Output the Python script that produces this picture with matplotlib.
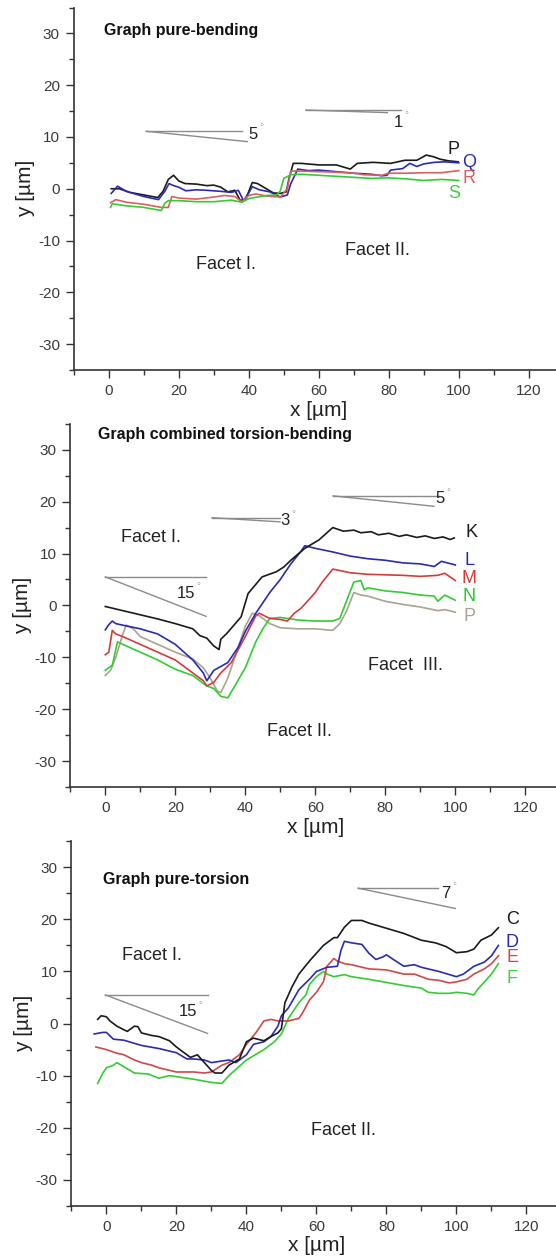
import matplotlib
matplotlib.use("Agg")
import matplotlib.pyplot as plt
from matplotlib.ticker import MultipleLocator

plt.rcParams["font.family"] = ["Liberation Sans", "DejaVu Sans"]
plt.rcParams["axes.unicode_minus"] = False

# ---- data (x, y in micrometres) ----
# pure bending
bend_P_x = [0.7, 3, 6, 10, 14, 15.5, 17, 18.5, 20, 21.8, 25, 28, 30, 32, 34, 36, 37.5, 39, 40, 41, 42.5, 45, 47, 49, 50.7, 51.5, 52.7, 55, 60, 65, 69, 71, 75.5, 80.5, 84.6, 88, 90.7, 92.7, 94.7, 97, 99.8]
bend_P_y = [0.0, 0.0, -0.7, -1.2, -1.7, -0.5, 1.8, 2.6, 1.5, 1.0, 0.9, 0.6, 0.7, 0.3, -0.6, -0.3, -2.2, -2.2, -0.5, 1.2, 1.0, 0.0, -0.8, -0.9, -0.6, 2.0, 4.9, 4.9, 4.6, 4.6, 3.8, 4.9, 5.1, 4.9, 5.5, 5.5, 6.5, 6.2, 5.7, 5.4, 5.2]
bend_Q_x = [0.7, 2.5, 5, 10, 14.2, 16, 17.2, 18.5, 20, 22, 25, 28, 32, 35, 37, 38.5, 40, 41, 43, 46, 49, 51, 52, 54, 57, 60, 65, 70, 75, 78, 79.5, 80.5, 84, 86, 88, 90, 93, 96, 100]
bend_Q_y = [-0.9, 0.5, -0.5, -1.5, -2.1, -0.5, 1.0, 0.6, 0.3, -0.4, -0.2, -0.3, -0.5, -0.7, -0.3, -2.3, -0.8, 0.4, -0.2, -0.6, -1.6, -1.2, 1.0, 3.8, 3.5, 3.6, 3.3, 3.0, 2.8, 2.5, 2.6, 3.6, 3.9, 4.9, 4.3, 4.8, 5.1, 5.2, 5.0]
bend_R_x = [0.5, 2, 5, 10, 15, 17, 18, 20, 25, 30, 33, 36, 38, 40, 42, 45, 49, 51, 52, 55, 60, 65, 70, 73, 78, 80, 85, 90, 95, 100]
bend_R_y = [-2.7, -2.1, -2.6, -3.0, -3.6, -3.6, -1.5, -1.8, -2.0, -1.6, -1.3, -1.5, -2.5, -1.3, -1.0, -1.4, -1.6, 0.0, 3.4, 3.4, 3.3, 3.2, 3.0, 2.7, 2.6, 3.0, 3.0, 3.1, 3.1, 3.5]
bend_S_x = [0.5, 1, 5, 10, 15, 16, 17, 20, 25, 30, 35, 38, 40, 45, 48, 49, 50, 52, 55, 60, 65, 70, 75, 80, 85, 90, 95, 100]
bend_S_y = [-3.6, -2.9, -3.3, -3.6, -4.2, -2.8, -2.3, -2.3, -2.5, -2.5, -2.2, -2.6, -1.9, -1.3, -1.2, -0.4, 2.0, 2.7, 2.8, 2.6, 2.4, 2.2, 2.0, 2.1, 1.9, 1.6, 1.8, 1.6]

# combined torsion-bending
comb_K_x = [0, 5, 10, 15, 20, 25, 27, 29, 31, 32.5, 33, 34.7, 38.8, 40.8, 44.8, 48.9, 51, 53, 57, 61, 65, 68, 71, 73, 76, 78, 81, 84, 86, 89, 91.4, 94, 96.5, 98.5, 99.7]
comb_K_y = [-0.2, -1.0, -1.8, -2.6, -3.5, -4.5, -5.8, -6.3, -7.8, -8.5, -6.5, -5.4, -2.2, 2.3, 5.5, 6.5, 7.4, 8.7, 11.0, 12.6, 15.0, 14.3, 14.5, 14.0, 14.2, 13.6, 13.9, 13.3, 13.6, 13.1, 13.4, 12.9, 13.2, 12.7, 13.0]
comb_L_x = [0, 1, 2, 3, 5, 10, 15, 20, 25, 28, 29, 31, 35, 38, 40, 43, 47, 50, 53, 56, 57, 60, 65, 70, 75, 80, 85, 90, 94, 96, 100]
comb_L_y = [-4.7, -3.7, -3.0, -3.5, -3.8, -4.5, -5.5, -7.5, -10.5, -13.0, -14.5, -12.5, -11.0, -8.0, -5.0, -1.5, 2.5, 5.0, 8.0, 10.5, 11.5, 11.0, 10.3, 9.5, 9.0, 8.7, 8.2, 8.0, 7.5, 8.5, 7.8]
comb_M_x = [0, 1, 2, 3, 5, 10, 15, 20, 25, 28, 29, 31, 33, 36, 40, 43, 44, 47, 50, 52, 54, 56, 58, 60, 62, 65, 70, 75, 80, 85, 90, 95, 97, 100]
comb_M_y = [-9.5, -9.0, -4.8, -5.5, -6.0, -7.5, -9.0, -10.5, -13.0, -14.5, -15.5, -14.8, -13.0, -11.0, -6.0, -2.0, -1.5, -2.5, -2.7, -3.0, -1.5, -0.5, 1.0, 2.5, 4.5, 7.0, 6.3, 6.0, 5.9, 5.8, 5.6, 5.8, 6.2, 4.8]
comb_N_x = [0, 2, 3.5, 5, 10, 15, 20, 25, 29, 31, 33, 35, 37, 40, 43, 45, 47, 50, 55, 60, 65, 67, 69, 71, 73, 74, 75, 80, 85, 90, 94, 95, 97, 100]
comb_N_y = [-12.5, -11.5, -7.0, -7.5, -9.0, -10.5, -12.3, -13.5, -15.5, -16.0, -17.5, -17.8, -15.5, -12.0, -7.0, -4.5, -2.5, -2.3, -2.8, -3.0, -3.0, -2.5, 1.0, 4.5, 4.8, 3.0, 3.4, 2.8, 2.5, 2.0, 1.8, 0.8, 2.0, 1.0]
comb_P_x = [0, 1.5, 3, 5, 6, 8, 10, 15, 20, 25, 28, 30, 32, 33, 35, 38, 40, 42, 44, 47, 50, 55, 60, 65, 67, 69, 71, 73, 75, 80, 85, 90, 95, 97, 100]
comb_P_y = [-13.5, -12.5, -10.0, -5.5, -3.8, -4.5, -6.0, -7.5, -9.0, -10.3, -12.0, -14.0, -16.5, -16.8, -14.0, -8.0, -4.0, -1.5, -2.0, -3.5, -4.3, -4.5, -4.5, -4.8, -3.5, -1.0, 2.5, 2.0, 1.8, 0.8, 0.2, -0.3, -1.0, -0.8, -1.3]

# pure torsion
tors_C_x = [-2.5, -1.5, 0, 1, 3, 5, 6, 8, 9, 10, 13, 15, 18, 20, 22, 24, 26, 28, 30, 31, 33, 35, 38, 40, 42, 45, 47, 49, 50, 51, 53, 55, 58, 62, 65, 66, 68, 70, 73, 75, 80, 85, 90, 94, 97, 100, 103, 105, 107, 110, 112]
tors_C_y = [0.8, 1.5, 1.3, 0.5, -0.5, -1.2, -1.5, -0.5, -0.6, -1.8, -2.3, -2.5, -3.3, -4.5, -5.5, -6.5, -6.0, -7.5, -9.0, -9.5, -9.5, -8.0, -6.8, -3.5, -2.8, -3.3, -2.5, -1.8, -1.0, 4.0, 7.0, 9.5, 12.0, 15.0, 16.5, 16.5, 18.5, 19.8, 19.8, 19.3, 18.3, 17.3, 16.0, 15.5, 14.8, 13.6, 13.8, 14.3, 16.0, 17.0, 18.4]
tors_D_x = [-3.5, -1, 0, 2, 5, 8, 10, 15, 20, 23, 25, 28, 30, 33, 35, 37, 40, 42, 45, 47, 49, 50, 52, 55, 58, 60, 63, 66, 67, 68, 70, 73, 75, 77, 79, 80, 82, 85, 88, 90, 95, 100, 102, 105, 108, 110, 112]
tors_D_y = [-2.0, -1.7, -1.7, -3.0, -3.2, -3.8, -4.2, -4.8, -5.6, -6.8, -6.8, -7.0, -7.5, -7.2, -7.0, -7.5, -6.0, -4.0, -3.5, -2.5, -0.5, 1.5, 3.0, 6.5, 8.5, 10.0, 10.8, 11.0, 14.0, 15.8, 15.5, 15.2, 13.5, 12.3, 12.8, 13.2, 12.3, 11.0, 11.3, 10.8, 10.0, 9.0, 9.5, 11.0, 11.8, 13.0, 15.0]
tors_E_x = [-3, 0, 3, 5, 8, 10, 13, 15, 20, 25, 28, 30, 33, 35, 38, 40, 43, 45, 47, 49, 52, 55, 56, 58, 60, 62, 63, 65, 66, 68, 70, 75, 80, 85, 88, 90, 92, 95, 98, 100, 103, 105, 108, 110, 112]
tors_E_y = [-4.5, -5.0, -5.7, -6.0, -7.0, -7.5, -8.0, -8.5, -9.3, -9.3, -9.5, -9.3, -8.0, -7.5, -6.0, -4.0, -1.5, 0.5, 0.8, 0.5, 0.5, 1.0, 2.0, 4.5, 6.0, 8.0, 11.0, 12.5, 12.0, 11.5, 11.3, 10.5, 10.3, 9.5, 9.5, 9.0, 8.5, 8.3, 7.8, 8.0, 8.5, 9.5, 10.5, 11.5, 13.0]
tors_F_x = [-2.5, -1, 0, 2, 3, 5, 8, 12, 15, 18, 20, 25, 30, 33, 35, 40, 45, 48, 50, 52, 54, 55, 57, 58, 60, 62, 63, 65, 68, 70, 75, 80, 85, 90, 92, 95, 98, 100, 103, 105, 106, 108, 110, 112]
tors_F_y = [-11.5, -9.5, -8.5, -8.0, -7.5, -8.3, -9.5, -9.7, -10.5, -10.0, -10.2, -10.7, -11.3, -11.5, -10.0, -7.0, -5.0, -3.5, -2.0, 1.0, 3.0, 4.0, 5.5, 7.5, 9.0, 10.0, 9.5, 9.0, 9.4, 9.0, 8.5, 7.9, 7.3, 6.8, 6.0, 5.8, 5.8, 6.0, 5.8, 5.5, 6.5, 8.0, 9.5, 11.5]

BLACK = "#1a1a1a"
BLUE = "#2a2ab4"
RED = "#d43c3c"
GREEN = "#33cc33"
TAN = "#aaa391"
GREY = "#8a8a8a"

fig = plt.figure(figsize=(5.56, 12.57), dpi=100)

W = 490 / 556
axes = [
    fig.add_axes([73.8 / 556, (1257 - 370) / 1257, W, 362.5 / 1257]),
    fig.add_axes([70.3 / 556, (1257 - 787.2) / 1257, W, 363.5 / 1257]),
    fig.add_axes([71.4 / 556, (1257 - 1205.8) / 1257, W, 364.5 / 1257]),
]

for ax in axes:
    ax.set_xlim(-10, 130)
    ax.set_ylim(-35, 35)
    for s in ("top", "right"):
        ax.spines[s].set_visible(False)
    for s in ("left", "bottom"):
        ax.spines[s].set_color("#333333")
        ax.spines[s].set_linewidth(1.2)
    ax.xaxis.set_minor_locator(MultipleLocator(10))
    ax.yaxis.set_minor_locator(MultipleLocator(5))
    ax.set_xticks([0, 20, 40, 60, 80, 100, 120])
    ax.set_yticks([-30, -20, -10, 0, 10, 20, 30])
    ax.tick_params(which="major", direction="out", length=6, width=1, color="#333333",
                   labelsize=11, labelcolor="#3a3a3a", pad=4)
    ax.tick_params(which="minor", direction="out", length=3.5, width=1, color="#333333")
    ax.set_xlabel("x [\u00b5m]", fontsize=15, color="#222222", labelpad=2)
    ax.set_ylabel("y [\u00b5m]", fontsize=15, color="#222222", labelpad=2)


def angle_mark(ax, x0, y0, x1, y_end, x_end, label, lx, ly):
    ax.plot([x0, x1], [y0, y0], color=GREY, lw=1.0)
    ax.plot([x0, x_end], [y0, y_end], color=GREY, lw=1.0)
    t = ax.text(lx, ly, label, fontsize=12, color="#222222", ha="center", va="center")
    ax.annotate("\u00b0", xy=(1, 1), xycoords=t, xytext=(1, -4), textcoords="offset points",
                fontsize=7, color="#aaaaaa", ha="left", va="bottom")


# ---- panel 1: pure bending ----
ax = axes[0]
ax.plot(bend_P_x, bend_P_y, color=BLACK, lw=1.2)
ax.plot(bend_Q_x, bend_Q_y, color=BLUE, lw=1.2)
ax.plot(bend_R_x, bend_R_y, color="#d86060", lw=1.2)
ax.plot(bend_S_x, bend_S_y, color=GREEN, lw=1.2)
ax.text(-1.5, 30.5, "Graph pure-bending", fontsize=11.5, fontweight="bold", va="center", color="#111111")
ax.text(24.9, -14.6, "Facet I.", fontsize=13, va="center", color="#222222")
ax.text(67.6, -12.0, "Facet II.", fontsize=13, va="center", color="#222222")
angle_mark(ax, 10.7, 11.1, 38, 9.1, 39.6, "5", 41.3, 10.5)
angle_mark(ax, 56.3, 15.2, 83.6, 14.7, 79.6, "1", 82.6, 12.8)
ax.text(98.6, 7.6, "P", fontsize=13, color=BLACK, ha="center", va="center")
ax.text(102.9, 5.1, "Q", fontsize=13, color=BLUE, ha="center", va="center")
ax.text(102.9, 2.0, "R", fontsize=13, color="#d86060", ha="center", va="center")
ax.text(98.6, -1.0, "S", fontsize=13, color="#44cc44", ha="center", va="center")

# ---- panel 2: combined torsion-bending ----
ax = axes[1]
ax.plot(comb_P_x, comb_P_y, color=TAN, lw=1.2)
ax.plot(comb_N_x, comb_N_y, color=GREEN, lw=1.2)
ax.plot(comb_M_x, comb_M_y, color=RED, lw=1.2)
ax.plot(comb_L_x, comb_L_y, color=BLUE, lw=1.2)
ax.plot(comb_K_x, comb_K_y, color=BLACK, lw=1.2)
ax.text(-2.2, 33.0, "Graph combined torsion-bending", fontsize=11.5, fontweight="bold", va="center", color="#111111")
ax.text(4.6, 13.1, "Facet I.", fontsize=13, va="center", color="#222222")
ax.text(46.2, -24.3, "Facet II.", fontsize=13, va="center", color="#222222")
ax.text(75.2, -11.5, "Facet  III.", fontsize=13, va="center", color="#222222")
angle_mark(ax, 0, 5.5, 28.8, -2.1, 28.8, "15", 23.0, 2.3)
angle_mark(ax, 30.5, 16.9, 49.9, 16.1, 49.9, "3", 51.4, 16.3)
angle_mark(ax, 65.1, 21.1, 95.4, 19.1, 93.9, "5", 95.7, 20.5)
ax.text(104.5, 14.0, "K", fontsize=13, color=BLACK, ha="center", va="center")
ax.text(104.0, 8.7, "L", fontsize=13, color=BLUE, ha="center", va="center")
ax.text(104.0, 5.2, "M", fontsize=13, color=RED, ha="center", va="center")
ax.text(104.0, 1.7, "N", fontsize=13, color="#22cc22", ha="center", va="center")
ax.text(104.0, -2.1, "P", fontsize=13, color=TAN, ha="center", va="center")

# ---- panel 3: pure torsion ----
ax = axes[2]
ax.plot(tors_F_x, tors_F_y, color=GREEN, lw=1.2)
ax.plot(tors_E_x, tors_E_y, color="#d04848", lw=1.2)
ax.plot(tors_D_x, tors_D_y, color=BLUE, lw=1.2)
ax.plot(tors_C_x, tors_C_y, color=BLACK, lw=1.2)
ax.text(-1.0, 27.6, "Graph pure-torsion", fontsize=11.5, fontweight="bold", va="center", color="#111111")
ax.text(4.6, 13.1, "Facet I.", fontsize=13, va="center", color="#222222")
ax.text(58.5, -20.5, "Facet II.", fontsize=13, va="center", color="#222222")
angle_mark(ax, -0.3, 5.5, 28.9, -1.9, 28.9, "15", 23.3, 2.3)
angle_mark(ax, 71.9, 26.0, 94.7, 22.1, 99.7, "7", 97.0, 25.0)
ax.text(116.0, 19.9, "C", fontsize=13, color=BLACK, ha="center", va="center")
ax.text(116.0, 15.5, "D", fontsize=13, color=BLUE, ha="center", va="center")
ax.text(116.0, 12.6, "E", fontsize=13, color="#d04848", ha="center", va="center")
ax.text(116.0, 8.7, "F", fontsize=13, color="#44cc44", ha="center", va="center")

fig.savefig("out.png", dpi=100)
